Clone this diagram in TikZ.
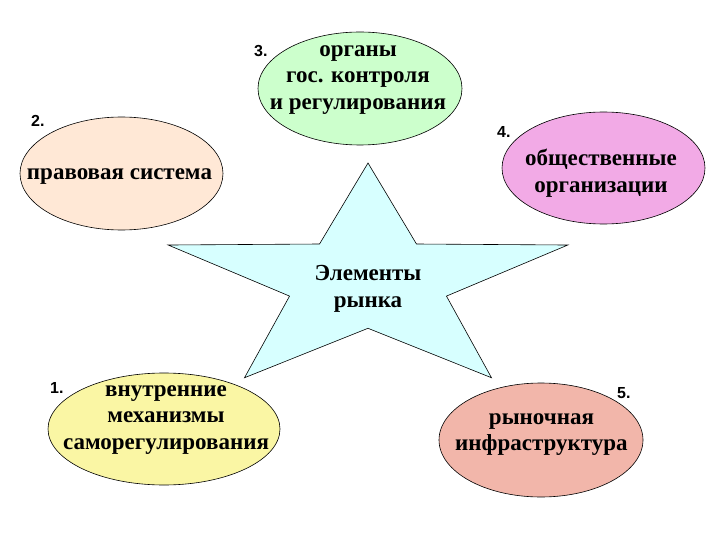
\documentclass[tikz,border=0pt]{standalone}
\usepackage{fontspec}
\setmainfont{Liberation Serif}
\newfontfamily\numfont{Liberation Sans}
\usetikzlibrary{shapes.geometric}

\definecolor{mechyellow}{RGB}{250,246,164}
\definecolor{lawpeach}{RGB}{255,232,214}
\definecolor{govgreen}{RGB}{204,255,204}
\definecolor{orgpink}{RGB}{242,170,230}
\definecolor{infrasalmon}{RGB}{242,182,170}
\definecolor{starcyan}{RGB}{215,255,255}

\begin{document}
\begin{tikzpicture}[x=1pt, y=-1pt,
    blob/.style={ellipse, draw, line width=0.6pt, inner sep=0pt},
    caption/.style={align=center, inner sep=0pt, font=\bfseries\fontsize{23}{26.5}\selectfont},
    num/.style={anchor=base west, inner sep=0pt, font=\numfont\bfseries\fontsize{16}{18}\selectfont}]

    \useasboundingbox (0,0) rectangle (720,540);

    % star in the middle
    \pgfmathsetmacro{\outer}{118.7}
    \pgfmathsetmacro{\inner}{46.6}
    \foreach \k in {0,...,9} {
        \pgfmathsetmacro{\rad}{mod(\k,2)==0 ? \outer : \inner}
        \coordinate (p\k) at ({368+1.77*\rad*cos(90+36*\k)}, {281.7-\rad*sin(90+36*\k)});
    }
    \path[draw, fill=starcyan, line width=0.6pt] (p0) \foreach \k in {1,...,9} {-- (p\k)} -- cycle;
    \node[caption] (market) at (368,289) {Элементы\\рынка};

    % the five elements
    \node[blob, fill=mechyellow, minimum width=232, minimum height=112] (mech) at (164,429) {};
    \node[caption] (mechtext) at (166,420) {внутренние\\механизмы\\саморегулирования};
    \node[num] (mechnum) at (50,393) {1.};

    \node[blob, fill=lawpeach, minimum width=203, minimum height=113] (law) at (121.5,173.5) {};
    \node[caption] (lawtext) at (119.5,177) {правовая система};
    \node[num] (lawnum) at (31,127) {2.};

    \node[blob, fill=govgreen, minimum width=204, minimum height=113] (gov) at (360,88.5) {};
    \node[caption] (govtext) at (358,80) {органы\\гос. контроля\\и регулирования};
    \node[num] (govnum) at (254,57) {3.};

    \node[blob, fill=orgpink, minimum width=203, minimum height=112] (org) at (603.5,168) {};
    \node[caption] (orgtext) at (601,173) {общественные\\организации};
    \node[num] (orgnum) at (497,138) {4.};

    \node[blob, fill=infrasalmon, minimum width=204, minimum height=114] (infra) at (541,440) {};
    \node[caption] (infratext) at (541.5,434.5) {рыночная\\инфраструктура};
    \node[num] (infranum) at (617,398) {5.};

\end{tikzpicture}
\end{document}
